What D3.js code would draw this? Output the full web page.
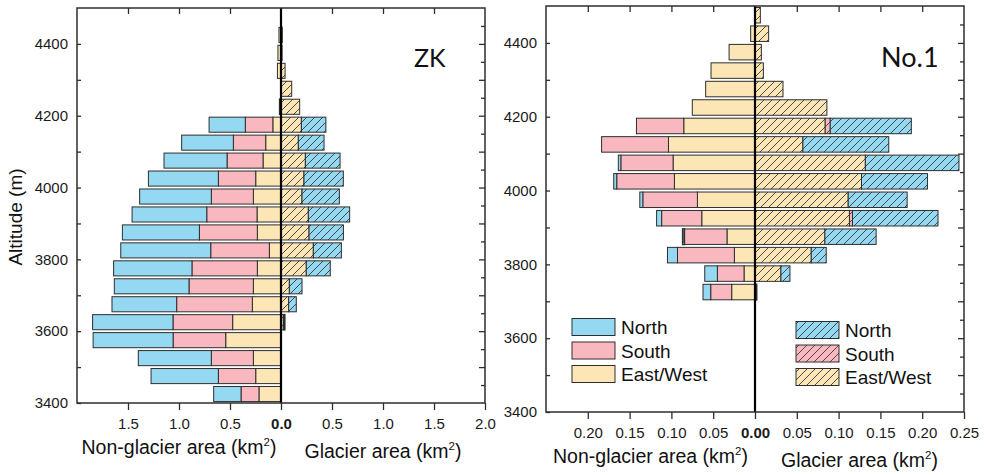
<!DOCTYPE html>
<html>
<head>
<meta charset="utf-8">
<script src="https://cdn.jsdelivr.net/npm/d3@7"></script>
<style>
  html, body { margin: 0; padding: 0; background: #fff; }
  svg { display: block; font-family: "Liberation Sans", Arial, sans-serif; }
</style>
</head>
<body>
<svg id="chart" width="984" height="475"></svg>
<script>
// ---- ZK catchment: area per 50 m band (km²), band centres in m ----
const zkAltitude     = [4425, 4375, 4325, 4275, 4225, 4175, 4125, 4075, 4025, 3975, 3925, 3875, 3825, 3775, 3725, 3675, 3625, 3575, 3525, 3475, 3425];
const zkNonNorth     = [0, 0, 0, 0, 0, 0.355, 0.507, 0.618, 0.686, 0.703, 0.732, 0.755, 0.882, 0.768, 0.732, 0.634, 0.788, 0.784, 0.716, 0.660, 0.268];
const zkNonSouth     = [0, 0, 0, 0, 0, 0.270, 0.317, 0.353, 0.366, 0.412, 0.493, 0.568, 0.575, 0.641, 0.631, 0.742, 0.585, 0.516, 0.412, 0.366, 0.176];
const zkNonEastWest  = [0.02, 0.03, 0.035, 0, 0.013, 0.080, 0.150, 0.176, 0.248, 0.271, 0.235, 0.232, 0.114, 0.232, 0.271, 0.281, 0.474, 0.542, 0.271, 0.248, 0.216];
const zkGlNorth      = [0, 0, 0, 0, 0, 0.240, 0.252, 0.340, 0.386, 0.366, 0.405, 0.337, 0.275, 0.235, 0.124, 0.075, 0.012, 0, 0, 0, 0];
const zkGlSouth      = [0, 0, 0, 0, 0, 0, 0, 0, 0, 0, 0, 0, 0, 0, 0, 0, 0, 0, 0, 0, 0];
const zkGlEastWest   = [0.01, 0.008, 0.04, 0.105, 0.183, 0.200, 0.170, 0.239, 0.225, 0.206, 0.268, 0.275, 0.317, 0.248, 0.082, 0.075, 0.025, 0, 0, 0, 0];

// ---- No.1 catchment ----
const n1Altitude     = [4475, 4425, 4375, 4325, 4275, 4225, 4175, 4125, 4075, 4025, 3975, 3925, 3875, 3825, 3775, 3725];
const n1NonNorth     = [0, 0, 0, 0, 0, 0, 0, 0, 0.003, 0.0036, 0.0036, 0.006, 0.002, 0.012, 0.0151, 0.0092];
const n1NonSouth     = [0, 0, 0, 0, 0, 0, 0.0566, 0.080, 0.0625, 0.069, 0.0653, 0.048, 0.051, 0.068, 0.0319, 0.0251];
const n1NonEastWest  = [0, 0.0052, 0.031, 0.0526, 0.059, 0.075, 0.0852, 0.1035, 0.098, 0.0964, 0.0689, 0.0637, 0.0335, 0.0247, 0.0131, 0.0279];
const n1GlNorth      = [0, 0, 0, 0, 0, 0, 0.097, 0.1027, 0.112, 0.0789, 0.0705, 0.1023, 0.0613, 0.0179, 0.0108, 0];
const n1GlSouth      = [0, 0, 0, 0, 0, 0, 0.006, 0, 0, 0, 0, 0.0036, 0, 0, 0, 0];
const n1GlEastWest   = [0.0064, 0.0163, 0.0076, 0.010, 0.0335, 0.086, 0.084, 0.0573, 0.132, 0.1274, 0.1115, 0.113, 0.0836, 0.0673, 0.031, 0.002];

// axis ticks
const zkXTicks = [-1.5, -1.0, -0.5, 0, 0.5, 1.0, 1.5, 2.0];
const n1XTicks = [-0.20, -0.15, -0.10, -0.05, 0, 0.05, 0.10, 0.15, 0.20, 0.25];
const altitudeTicks = [3400, 3500, 3600, 3700, 3800, 3900, 4000, 4100, 4200, 4300, 4400];
const aspectNames = ["North", "South", "East/West"];

const colors = { North: "#94d8f1", South: "#f9b8bf", "East/West": "#fde6b6" };
const stroke = "#2e2e2e";

const svg = d3.select("#chart");
const defs = svg.append("defs");

// diagonal hatch fills for glacier bars
aspectNames.forEach((name, i) => {
  const p = defs.append("pattern")
    .attr("id", "hatch" + i)
    .attr("patternUnits", "userSpaceOnUse")
    .attr("width", 8).attr("height", 8);
  p.append("rect").attr("width", 8).attr("height", 8).attr("fill", colors[name]);
  p.append("path")
    .attr("d", "M-2,2 L2,-2 M0,8 L8,0 M6,10 L10,6")
    .attr("stroke", "#3a3a3a").attr("stroke-width", 0.9);
});

function panel(cfg) {
  const { left, right, top, bottom, xMax, xTicks, xFmt, alt, non, gl, label, labelX, labelY, labelSize, legends } = cfg;
  const g = svg.append("g");
  const x = d3.scaleLinear().domain([-xMax, xMax]).range([left, right]);
  const y = d3.scaleLinear().domain([3400, 4500]).range([bottom, top]);

  const band = y(4450) - y(4500);
  const barH = band * 0.84;

  // stacked bars: East/West nearest the centre line, then South, then North
  alt.forEach((a, i) => {
    const yc = y(a);
    const draw = (vals, sign, hatched) => {
      let acc = 0;
      [2, 1, 0].forEach(k => {
        const v = vals[k][i];
        if (v <= 0) return;
        const x0 = x(sign * acc), x1 = x(sign * (acc + v));
        const w = Math.abs(x1 - x0);
        g.append("rect")
          .attr("x", Math.min(x0, x1)).attr("y", yc - barH / 2)
          .attr("width", w).attr("height", barH)
          .attr("fill", hatched ? "url(#hatch" + k + ")" : colors[aspectNames[k]])
          .attr("stroke", stroke).attr("stroke-width", w < 2 ? 1.6 : 1);
        acc += v;
      });
    };
    draw(non, -1, false);
    draw(gl, 1, true);
  });

  // zero line
  g.append("line")
    .attr("x1", x(0)).attr("x2", x(0)).attr("y1", top).attr("y2", bottom)
    .attr("stroke", "#000").attr("stroke-width", 2.2);

  // bottom axis (outward ticks, absolute values)
  const bx = g.append("g").attr("transform", `translate(0,${bottom})`)
    .call(d3.axisBottom(x).tickValues(xTicks).tickSize(7).tickPadding(8)
      .tickFormat(d => d3.format(xFmt)(Math.abs(d))));
  bx.selectAll("text").attr("font-size", 15).attr("fill", "#1a1a1a")
    .attr("font-family", "Liberation Sans, Arial, sans-serif")
    .attr("font-weight", d => d === 0 ? "bold" : "normal");

  // top axis: inward ticks, no labels
  g.append("g").attr("transform", `translate(0,${top})`)
    .call(d3.axisBottom(x).tickValues(xTicks.filter(d => d !== 0 && Math.abs(d) < xMax)).tickSize(6).tickFormat(""));

  // left axis: labels every 200 m, inward ticks every 100 m
  const ly = g.append("g").attr("transform", `translate(${left},0)`)
    .call(d3.axisLeft(y).tickValues(altitudeTicks).tickSizeInner(-4).tickSizeOuter(0).tickPadding(9)
      .tickFormat(d => d % 200 === 0 ? d : ""));
  ly.selectAll("text").attr("font-size", 15).attr("fill", "#1a1a1a")
    .attr("font-family", "Liberation Sans, Arial, sans-serif");

  // right axis: inward major (100 m) and minor (50 m) ticks
  const minor = d3.range(3450, 4500, 100);
  g.append("g").attr("transform", `translate(${right},0)`)
    .call(d3.axisLeft(y).tickValues(altitudeTicks.slice(1)).tickSize(6).tickFormat(""));
  g.append("g").attr("transform", `translate(${right},0)`)
    .call(d3.axisLeft(y).tickValues(minor).tickSize(4).tickFormat(""));

  g.selectAll(".domain").remove();
  g.selectAll(".tick line").attr("stroke", stroke).attr("stroke-width", 1.3);

  // frame
  g.append("rect")
    .attr("x", left).attr("y", top).attr("width", right - left).attr("height", bottom - top)
    .attr("fill", "none").attr("stroke", stroke).attr("stroke-width", 1.5);

  // axis titles with km² superscript
  const title = (txt, cx, by) => {
    const t = g.append("text").attr("x", cx).attr("y", by)
      .attr("text-anchor", "middle").attr("font-size", 19.5).attr("fill", "#111");
    t.append("tspan").text(txt + " (km");
    t.append("tspan").attr("font-size", 11.5).attr("dy", -8.5).text("2");
    t.append("tspan").attr("dy", 8.5).text(")");
  };
  title("Non-glacier area", x(-xMax / 2), cfg.titleY[0]);
  title("Glacier area", x(xMax / 2), cfg.titleY[1]);

  // panel name
  g.append("text").attr("x", labelX).attr("y", labelY)
    .attr("font-family", "Lato, 'Open Sans', sans-serif")
    .attr("font-size", labelSize).attr("fill", "#111").text(label);

  // legends
  if (legends) {
    legends.forEach(lg => {
      aspectNames.forEach((name, k) => {
        const yy = lg.y + k * 23.5;
        g.append("rect").attr("x", lg.x).attr("y", yy - 8.5).attr("width", 43).attr("height", 17)
          .attr("fill", lg.hatched ? "url(#hatch" + k + ")" : colors[name])
          .attr("stroke", stroke).attr("stroke-width", 1);
        g.append("text").attr("x", lg.x + 49).attr("y", yy + 7)
          .attr("font-size", 19).attr("fill", "#111").text(name);
      });
    });
  }
}

panel({
  left: 77, right: 485, top: 8, bottom: 403, xMax: 2, xTicks: zkXTicks, xFmt: ".1f",
  alt: zkAltitude,
  non: [zkNonNorth, zkNonSouth, zkNonEastWest],
  gl: [zkGlNorth, zkGlSouth, zkGlEastWest],
  label: "ZK", labelX: 414, labelY: 67, labelSize: 25,
  titleY: [454, 458]
});

panel({
  left: 546, right: 964, top: 6, bottom: 412, xMax: 0.25, xTicks: n1XTicks, xFmt: ".2f",
  alt: n1Altitude,
  non: [n1NonNorth, n1NonSouth, n1NonEastWest],
  gl: [n1GlNorth, n1GlSouth, n1GlEastWest],
  label: "No.1", labelX: 881, labelY: 67, labelSize: 27,
  titleY: [463, 467],
  legends: [{ x: 572, y: 327, hatched: false }, { x: 796, y: 330, hatched: true }]
});

// shared y-axis title
svg.append("text")
  .attr("transform", "translate(22,217) rotate(-90)")
  .attr("text-anchor", "middle").attr("font-size", 19).attr("fill", "#111")
  .text("Altitude (m)");
</script>
</body>
</html>
